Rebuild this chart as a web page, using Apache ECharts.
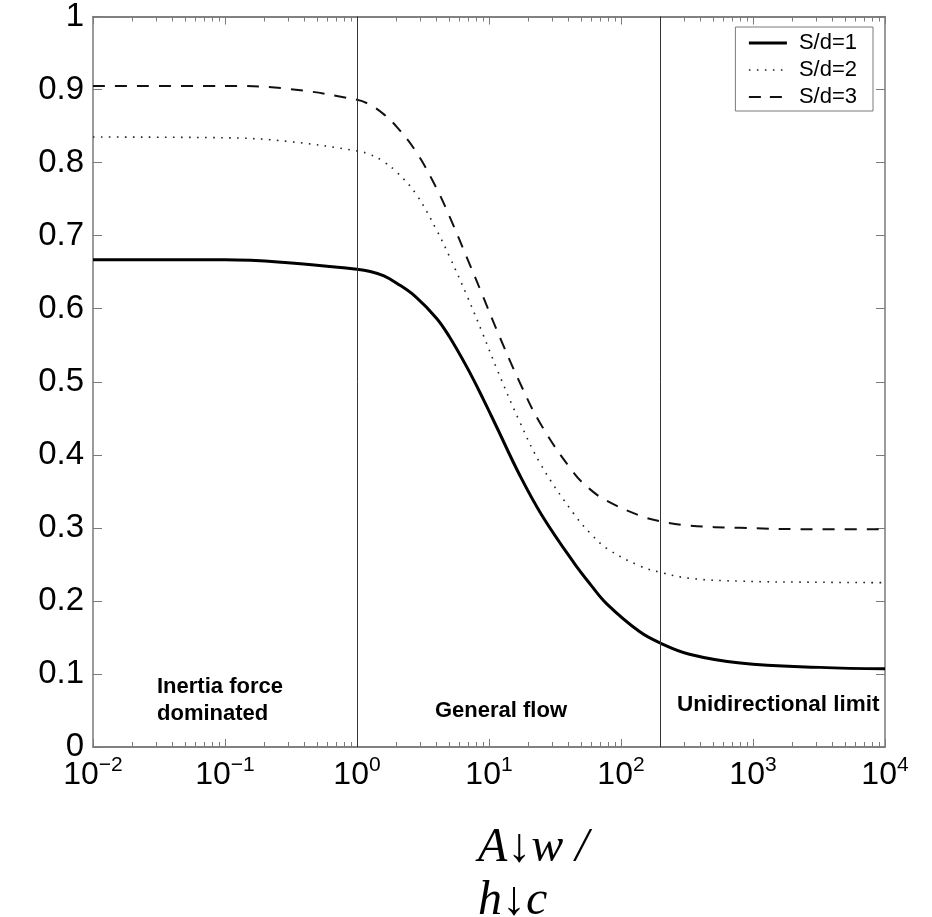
<!DOCTYPE html>
<html>
<head>
<meta charset="utf-8">
<script src="https://cdn.jsdelivr.net/npm/echarts@6/dist/echarts.min.js"></script>
<style>html,body{margin:0;padding:0;background:#fff;}#c{width:932px;height:917px;}</style>
</head>
<body>
<div id="c"></div>
<script>
// x positions (A_w / b_c) shared by all curves
const xValues = [0.01, 0.1, 0.3, 1, 1.26, 1.6, 2, 2.8, 4, 5, 6.8, 9, 11.5, 17, 25, 44, 59, 78, 138, 200, 330, 800, 3200, 10000];
const sd1 = [0.667, 0.667, 0.663, 0.654, 0.651, 0.645, 0.635, 0.616, 0.587, 0.562, 0.520, 0.477, 0.437, 0.373, 0.318, 0.252, 0.222, 0.196, 0.158, 0.142, 0.127, 0.115, 0.109, 0.107];
const sd2 = [0.835, 0.834, 0.829, 0.816, 0.811, 0.801, 0.787, 0.757, 0.708, 0.672, 0.618, 0.565, 0.517, 0.446, 0.385, 0.319, 0.292, 0.272, 0.248, 0.239, 0.231, 0.227, 0.2255, 0.225];
const sd3 = [0.905, 0.905, 0.901, 0.886, 0.879, 0.866, 0.849, 0.815, 0.765, 0.727, 0.670, 0.617, 0.570, 0.500, 0.440, 0.375, 0.352, 0.337, 0.317, 0.309, 0.303, 0.300, 0.298, 0.298];
const seriesNames = ['S/d=1', 'S/d=2', 'S/d=3'];
const regionLines = [1, 200];
const majorTicks = [0.01, 0.1, 1, 10, 100, 1000, 10000];
const minorTicks = [0.02,0.03,0.04,0.05,0.06,0.07,0.08,0.09,
  0.2,0.3,0.4,0.5,0.6,0.7,0.8,0.9,
  2,3,4,5,6,7,8,9,
  20,30,40,50,60,70,80,90,
  200,300,400,500,600,700,800,900,
  2000,3000,4000,5000,6000,7000,8000,9000];
const regionLabels = ['Inertia force\ndominated', 'General flow', 'Unidirectional limit'];
const axisTitle = 'A↓w /\nh↓c';

const frameColor = '#7a7a7a';
const fontSans = '"Liberation Sans", Arial, Helvetica, sans-serif';
const lineStyles = [
  { color: '#000', width: 3, type: 'solid' },
  { color: '#222', width: 1.6, type: [1.6, 6.4] },
  { color: '#111', width: 2, type: [12, 10] }
];
const legendLineStyles = [
  { color: '#000', width: 3, type: 'solid' },
  { color: '#222', width: 1.6, type: [1.6, 6.4] },
  { color: '#111', width: 2, type: [12, 9] }
];

function pairs(ys) { return xValues.map((x, i) => [x, ys[i]]); }

function xAx(pos, ticks, len, labels) {
  return {
    type: 'log', logBase: 10, min: 0.01, max: 10000, position: pos,
    axisLine: { show: true, onZero: false, lineStyle: { color: frameColor, width: 1.5 } },
    axisTick: { show: true, inside: true, length: len, customValues: ticks, lineStyle: { color: frameColor, width: 1 } },
    axisLabel: labels ? {
      show: true, margin: 8, customValues: majorTicks,
      formatter: function (v) {
        const e = Math.round(Math.log10(v));
        return '{b|10}{s|' + (e < 0 ? '\u2212' + (-e) : e) + '}';
      },
      rich: {
        b: { fontSize: 32, fontFamily: fontSans, color: '#000', lineHeight: 36, verticalAlign: 'bottom' },
        s: { fontSize: 21, fontFamily: fontSans, color: '#000', lineHeight: 21, verticalAlign: 'top' }
      }
    } : { show: false },
    splitLine: { show: false }
  };
}

function yAx(pos, labels) {
  return {
    type: 'value', min: 0, max: 1, interval: 0.1, position: pos,
    axisLine: { show: true, onZero: false, lineStyle: { color: frameColor, width: 1.5 } },
    axisTick: { show: true, inside: true, length: 9, lineStyle: { color: frameColor, width: 1 } },
    axisLabel: labels ? {
      show: true, margin: 9, fontSize: 33, fontFamily: fontSans, color: '#000',
      formatter: function (v) { return (v === 0 || v === 1) ? String(v) : v.toFixed(1); }
    } : { show: false },
    splitLine: { show: false }
  };
}

const chart = echarts.init(document.getElementById('c'), null, { renderer: 'canvas' });
chart.setOption({
  animation: false,
  backgroundColor: '#fff',
  grid: { left: 93, right: 47, top: 15, bottom: 170, containLabel: false },
  xAxis: [
    xAx('bottom', majorTicks, 8, true),
    xAx('bottom', minorTicks, 5, false),
    xAx('top', majorTicks, 8, false),
    xAx('top', minorTicks, 5, false)
  ],
  yAxis: [yAx('left', true), yAx('right', false)],
  legend: {
    data: seriesNames.map((n, i) => ({ name: n, lineStyle: legendLineStyles[i] })),
    orient: 'vertical', right: 59, top: 27,
    itemWidth: 38, itemHeight: 14, itemGap: 5,
    padding: [5, 16, 3, 12],
    backgroundColor: '#fff', borderColor: frameColor, borderWidth: 1,
    itemStyle: { opacity: 0, borderWidth: 0 },
    textStyle: { fontSize: 22, fontFamily: fontSans, color: '#000', padding: [0, 0, 0, 7] }
  },
  series: [
    {
      name: seriesNames[0], type: 'line', data: pairs(sd1), xAxisIndex: 0, yAxisIndex: 0,
      smooth: 0.4, showSymbol: false, symbol: 'none',
      lineStyle: lineStyles[0], itemStyle: { color: '#000' },
      markLine: {
        silent: true, symbol: ['none', 'none'], label: { show: false },
        lineStyle: { color: '#333', width: 1, type: 'solid' },
        data: regionLines.map(v => ({ xAxis: v }))
      }
    },
    {
      name: seriesNames[1], type: 'line', data: pairs(sd2), xAxisIndex: 0, yAxisIndex: 0,
      smooth: 0.4, showSymbol: false, symbol: 'none',
      lineStyle: lineStyles[1], itemStyle: { color: '#222' }
    },
    {
      name: seriesNames[2], type: 'line', data: pairs(sd3), xAxisIndex: 0, yAxisIndex: 0,
      smooth: 0.4, showSymbol: false, symbol: 'none',
      lineStyle: lineStyles[2], itemStyle: { color: '#111' }
    }
  ],
  graphic: [
    { type: 'text', left: 157, top: 673, style: { text: regionLabels[0], font: 'bold 22px ' + fontSans, lineHeight: 27, fill: '#000' } },
    { type: 'text', left: 435, top: 697, style: { text: regionLabels[1], font: 'bold 22px ' + fontSans, lineHeight: 27, fill: '#000' } },
    { type: 'text', left: 677, top: 691, style: { text: regionLabels[2], font: 'bold 22.5px ' + fontSans, lineHeight: 27, fill: '#000' } },
    { type: 'text', left: 478, top: 822, style: { text: axisTitle, font: 'italic 48px "Liberation Serif", "DejaVu Serif", serif', lineHeight: 53, fill: '#000' } }
  ]
});
</script>
</body>
</html>
